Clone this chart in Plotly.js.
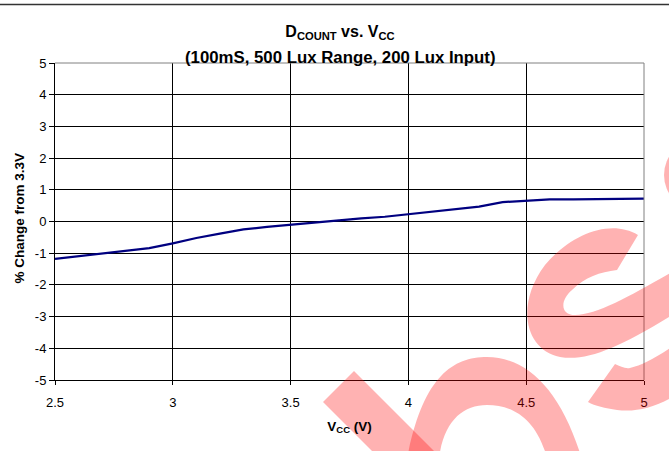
<!DOCTYPE html>
<html>
<head>
<meta charset="utf-8">
<script src="https://cdn.plot.ly/plotly-3.0.1.min.js"></script>
<style>html,body{margin:0;padding:0;background:#fff;}#chart{width:669px;height:451px;}</style>
</head>
<body>
<div id="chart"></div>
<script>
// Data
var vcc = [2.5, 2.6, 2.7, 2.8, 2.9, 3.0, 3.1, 3.2, 3.3, 3.4, 3.5, 3.6, 3.7, 3.8, 3.9, 4.0, 4.1, 4.2, 4.3, 4.4, 4.5, 4.6, 4.7, 4.8, 4.9, 5.0];
var pctChange = [-1.18, -1.10, -1.02, -0.94, -0.84, -0.69, -0.52, -0.38, -0.25, -0.17, -0.10, -0.05, 0.02, 0.10, 0.15, 0.23, 0.30, 0.38, 0.47, 0.61, 0.66, 0.70, 0.70, 0.71, 0.72, 0.72];
var xTicks = [2.5, 3, 3.5, 4, 4.5, 5];
var xTickText = ['2.5', '3', '3.5', '4', '4.5', '5'];
var yTicks = [-5, -4, -3, -2, -1, 0, 1, 2, 3, 4, 5];
var yTickText = ['-5', '-4', '-3', '-2', '-1', '0', '1', '2', '3', '4', '5'];
var titleLine1 = '<b>D<sub>COUNT</sub> vs. V<sub>CC</sub></b>';
var titleLine2 = '<b>(100mS, 500 Lux Range, 200 Lux Input)</b>';

var W = 669, H = 451;
var M = {l: 55, r: 25, t: 63, b: 71};
var PW = W - M.l - M.r, PH = H - M.t - M.b;

// decoration helpers (watermark drawn in page pixels -> paper units)
function px(x) { return (x - M.l) / PW; }
function py(y) { return (H - M.b - y) / PH; }
function P(s) {
  return s.replace(/(-?\d+(?:\.\d+)?),(-?\d+(?:\.\d+)?)/g, function (m, a, b) {
    return px(+a).toFixed(4) + ',' + py(+b).toFixed(4);
  });
}
var wm = 'rgba(255,0,0,0.30)';
var shapes = [
  // page rule at top
  {type: 'line', xref: 'paper', yref: 'paper', x0: px(0), x1: px(669), y0: py(4.5), y1: py(4.5), line: {color: '#333', width: 1.6}},
  // plot frame top/right (gray)
  {type: 'line', xref: 'paper', yref: 'paper', x0: 0, x1: 1, y0: 1, y1: 1, line: {color: '#808080', width: 1}, layer: 'above'},
  {type: 'line', xref: 'paper', yref: 'paper', x0: 1, x1: 1, y0: 0, y1: 1, line: {color: '#808080', width: 1}, layer: 'above'},
  // watermark pieces
  {type: 'path', xref: 'paper', yref: 'paper', layer: 'above', fillcolor: wm, line: {width: 0},
   path: P('M 323,402 L 354,371 L 460,477 L 429,508 Z')},
  {type: 'path', xref: 'paper', yref: 'paper', layer: 'above', fillcolor: wm, line: {width: 0},
   path: P('M 405,470 C 420,380 450,357 487,357 C 530,357 565,395 585,470 L 550,470 C 540,420 515,405 487,405 C 460,405 440,425 438,470 Z')},
  {type: 'path', xref: 'paper', yref: 'paper', layer: 'above', fillcolor: wm, line: {width: 0},
   path: P('M 638,235 C 610,218 570,235 545,265 C 515,305 525,350 560,357 C 590,362 625,345 690,304 L 690,262 C 640,290 600,315 575,315 C 560,315 560,300 572,290 C 585,277 600,272 617,270 Z')},
  {type: 'path', xref: 'paper', yref: 'paper', layer: 'above', fillcolor: wm, line: {width: 0},
   path: P('M 588,402 L 615,364 C 620,366 625,369 630,368 C 645,365 660,355 690,335 L 690,385 C 665,405 640,413 617,410 C 605,408 595,406 588,402 Z')},
  {type: 'circle', xref: 'paper', yref: 'paper', layer: 'above', fillcolor: wm, line: {width: 0},
   x0: px(664), x1: px(736), y0: py(211), y1: py(139)}
];

var trace = {
  x: vcc, y: pctChange, type: 'scatter', mode: 'lines',
  line: {color: '#000080', width: 2.2}, hoverinfo: 'skip', showlegend: false
};

var font = 'Liberation Sans, Arial, sans-serif';
var layout = {
  width: W, height: H,
  margin: M,
  paper_bgcolor: '#fff', plot_bgcolor: '#fff',
  font: {family: font, size: 13, color: '#000'},
  title: {
    text: titleLine1,
    font: {family: font, size: 16, color: '#000'},
    x: 340 / W, xref: 'container', xanchor: 'center',
    y: 1 - 31 / H, yref: 'container', yanchor: 'middle'
  },
  xaxis: {
    range: [2.5, 5], tickmode: 'array', tickvals: xTicks, ticktext: xTickText,
    showgrid: true, gridcolor: '#000', gridwidth: 1, zeroline: false,
    showline: true, linecolor: '#000', linewidth: 1,
    ticks: 'outside', ticklen: 4, tickcolor: '#000', ticklabelstandoff: 6,
    tickfont: {family: font, size: 13, color: '#000'},
    title: {text: '<b>V<sub>CC</sub> (V)</b>', font: {family: font, size: 13.5, color: '#000'}, standoff: 12},
    fixedrange: true
  },
  yaxis: {
    range: [-5, 5], tickmode: 'array', tickvals: yTicks, ticktext: yTickText,
    showgrid: true, gridcolor: '#000', gridwidth: 1, zeroline: false,
    showline: true, linecolor: '#000', linewidth: 1,
    ticks: 'outside', ticklen: 5, tickcolor: '#000',
    tickfont: {family: font, size: 13, color: '#000'},
    fixedrange: true
  },
  annotations: [{
    text: '<b>% Change from 3.3V</b>', textangle: -90,
    xref: 'paper', yref: 'paper', x: px(18.5), y: py(218),
    xanchor: 'center', yanchor: 'middle', showarrow: false,
    font: {family: font, size: 13.5, color: '#000'}
  }, {
    text: titleLine2,
    xref: 'paper', yref: 'paper', x: px(340), y: py(57.5),
    xanchor: 'center', yanchor: 'middle', showarrow: false,
    font: {family: font, size: 16.8, color: '#000'}
  }],
  shapes: shapes
};

Plotly.newPlot('chart', [trace], layout, {displayModeBar: false, staticPlot: true});
</script>
</body>
</html>
